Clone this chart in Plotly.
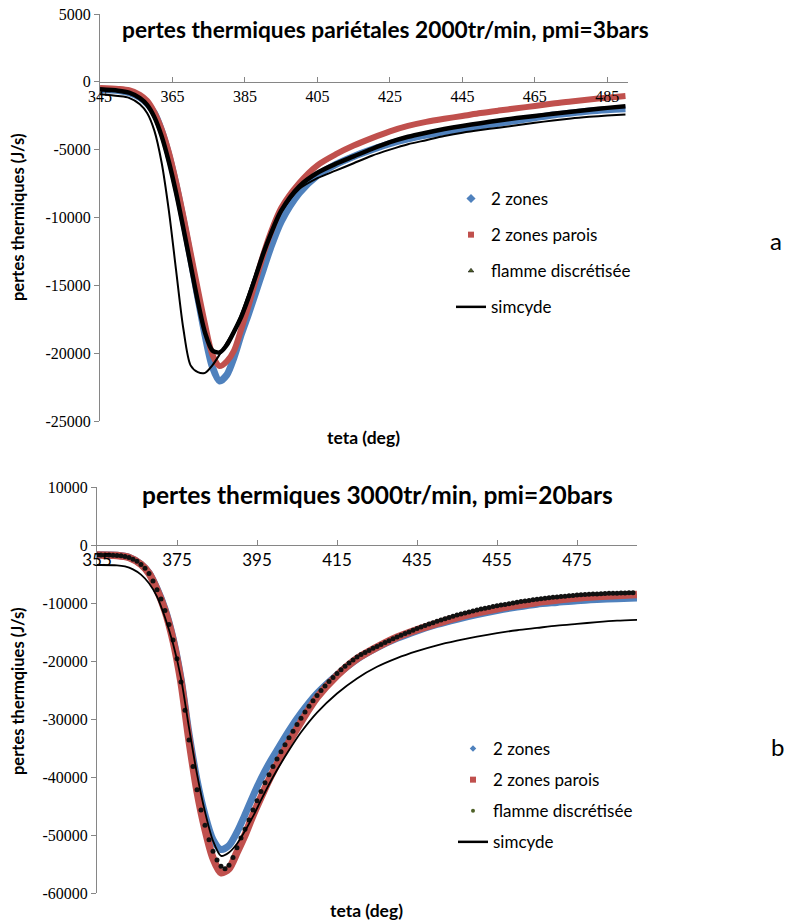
import plotly.graph_objects as go

# ---------------- data: chart a (2000 tr/min, pmi = 3 bars) ----------------
teta_a = [345, 350, 353, 356, 358, 360, 362, 364, 366, 368, 370, 372, 374, 376, 378,
          380, 382, 384, 386, 388, 390, 392, 395, 400, 405, 410, 415, 420, 425, 430,
          435, 440, 445, 450, 455, 460, 465, 470, 475, 480, 485, 490]
a_2zones = [-550, -650, -800, -1150, -1600, -2300, -3600, -5400, -7600, -10200, -13000, -15900,
            -18700, -21000, -22050, -21600, -20300, -18600, -17100, -15500, -13900, -12300,
            -10300, -8200, -6900, -6100, -5500, -5000, -4550, -4200, -3920, -3680, -3470,
            -3250, -3050, -2850, -2650, -2450, -2300, -2150, -2050, -1980]
a_parois = [-450, -520, -620, -950, -1400, -2250, -3500, -5200, -7400, -9900, -12600, -15300,
            -17900, -20100, -20950, -20600, -19800, -18200, -16500, -14600, -12800, -11200,
            -9300, -7450, -6150, -5350, -4700, -4150, -3650, -3250, -2950, -2720, -2520,
            -2300, -2120, -1950, -1780, -1600, -1450, -1300, -1170, -1050]
a_flamme = [-550, -650, -800, -1200, -1700, -2600, -4000, -5900, -8200, -10800, -13500, -16200,
            -18500, -19800, -19950, -19400, -18400, -17300, -15900, -14300, -12700, -11300,
            -9500, -7700, -6700, -6050, -5500, -4950, -4450, -4050, -3750, -3480, -3250,
            -3050, -2850, -2670, -2520, -2350, -2200, -2050, -1920, -1800]
a_simcyde = [-920, -1050, -1180, -1650, -2300, -3600, -5950, -9500, -13900, -18200, -20900,
             -21400, -21450, -20900, -20100, -19200, -18300, -17100, -15600, -14100, -12700,
             -11400, -9600, -7900, -7100, -6550, -6000, -5450, -5000, -4600, -4300, -4000,
             -3750, -3550, -3380, -3200, -3020, -2850, -2700, -2580, -2480, -2400]

# ---------------- data: chart b (3000 tr/min, pmi = 20 bars) ----------------
teta_b = [355, 360, 363, 366, 368, 370, 372, 374, 376, 378, 380, 382, 384, 386, 388, 390,
          392, 394, 396, 398, 400, 403, 406, 410, 415, 420, 425, 430, 435, 440, 445, 450,
          455, 460, 465, 470, 475, 480, 485, 490]
b_2zones = [-1700, -1780, -2100, -3300, -4800, -7500, -11000, -16000, -23000, -32500, -40500,
            -46500, -50800, -52500, -51800, -49500, -46500, -43300, -40300, -37700, -35400,
            -32000, -29000, -25600, -22400, -19700, -17700, -16100, -14800, -13700, -12800,
            -12000, -11300, -10700, -10200, -9900, -9600, -9400, -9250, -9150]
b_parois = [-1720, -1800, -2150, -3350, -4900, -7700, -11300, -16400, -23600, -33600, -42400,
            -49000, -54000, -56500, -55800, -53000, -50000, -46600, -43500, -40500, -37800,
            -34000, -30500, -26300, -22500, -19600, -17600, -15900, -14600, -13500, -12500,
            -11700, -11000, -10400, -9900, -9500, -9150, -8900, -8700, -8550]
teta_b_simcyde = [355, 360, 362, 364, 366, 368, 370, 372, 374, 376, 378, 380, 382, 384, 386,
                  388, 390, 392, 394, 396, 398, 400, 403, 406, 410, 415, 420, 425, 430, 435,
                  440, 445, 450, 455, 460, 465, 470, 475, 480, 485, 490]
b_simcyde = [-3450, -3500, -3700, -4200, -5100, -6600, -8900, -12500, -17000, -23000, -31500,
             -39500, -46000, -51000, -53600, -53000, -51500, -49300, -46800, -44000, -41300,
             -38800, -35400, -32300, -28900, -25600, -23000, -21000, -19500, -18300, -17300,
             -16500, -15800, -15200, -14700, -14300, -13900, -13600, -13300, -13050, -12900]
teta_b_flamme = list(range(355, 490))
b_flamme = [-1720, -1720, -1730, -1740, -1760, -1800, -1870, -1980, -2150, -2450,
            -2800, -3350, -4020, -4900, -6200, -7700, -9300, -11300, -13700, -16400,
            -19600, -23600, -28500, -33600, -38200, -42200, -45700, -48300, -50800, -52800,
            -54300, -55400, -55800, -55200, -53900, -52200, -50500, -49000, -47400, -45700,
            -44100, -42500, -41000, -39600, -38200, -36900, -35650, -34450, -33250, -32100,
            -30950, -29850, -28800, -27800, -26850, -25950, -25100, -24300, -23550, -22850,
            -22150, -21520, -20920, -20350, -19810, -19300, -18900, -18530, -18170, -17820,
            -17480, -17150, -16820, -16500, -16180, -15870, -15570, -15270, -14980, -14690,
            -14410, -14140, -13880, -13630, -13390, -13150, -12920, -12700, -12490, -12290,
            -12090, -11900, -11720, -11540, -11370, -11210, -11050, -10900, -10760, -10620,
            -10490, -10360, -10240, -10120, -10000, -9850, -9750, -9650, -9550, -9450,
            -9360, -9270, -9180, -9100, -9020, -8950, -8880, -8820, -8760, -8700,
            -8640, -8590, -8540, -8500, -8460, -8430, -8400, -8370, -8340, -8320,
            -8300, -8280, -8260, -8240, -8220]

series_names = ["2 zones", "2 zones parois", "flamme discrétisée", "simcyde"]
xticks_a = [345, 365, 385, 405, 425, 445, 465, 485]
xticks_b = [355, 375, 395, 415, 435, 455, 475]
yticks_a = [5000, 0, -5000, -10000, -15000, -20000, -25000]
yticklabels_a = ["5000", "0", "-5000", "-10000", "-15000", "-20000", "-25000"]
yticks_b = [10000, 0, -10000, -20000, -30000, -40000, -50000, -60000]
yticklabels_b = ["10000", "0", "-10000", "-20000", "-30000", "-40000", "-50000", "-60000"]

BLUE = "#4F81BD"
RED = "#C0504D"
AXIS = "#868686"
W, H = 801, 922


def px_x(p):
    return p / W


def px_y(p):
    return (H - p) / H


fig = go.Figure()

sp = dict(shape="spline", smoothing=0.8)

# ---- chart a traces
fig.add_trace(go.Scatter(x=teta_a, y=a_2zones, mode="lines", line=dict(color=BLUE, width=7, **sp),
                         showlegend=False, xaxis="x", yaxis="y"))
fig.add_trace(go.Scatter(x=teta_a, y=a_parois, mode="lines", line=dict(color=RED, width=6, **sp),
                         showlegend=False, xaxis="x", yaxis="y"))
fig.add_trace(go.Scatter(x=teta_a, y=a_flamme, mode="lines", line=dict(color="#000000", width=4.5, **sp),
                         showlegend=False, xaxis="x", yaxis="y"))
fig.add_trace(go.Scatter(x=teta_a, y=a_simcyde, mode="lines", line=dict(color="#000000", width=2, **sp),
                         showlegend=False, xaxis="x", yaxis="y"))

# ---- chart b traces
fig.add_trace(go.Scatter(x=teta_b, y=b_2zones, mode="lines", line=dict(color=BLUE, width=7, **sp),
                         showlegend=False, xaxis="x2", yaxis="y2"))
fig.add_trace(go.Scatter(x=teta_b, y=b_parois, mode="lines", line=dict(color=RED, width=7.5, **sp),
                         showlegend=False, xaxis="x2", yaxis="y2"))
fig.add_trace(go.Scatter(x=teta_b_flamme, y=b_flamme, mode="markers",
                         marker=dict(color="#111111", size=5, symbol="circle"),
                         showlegend=False, xaxis="x2", yaxis="y2"))
fig.add_trace(go.Scatter(x=teta_b_simcyde, y=b_simcyde, mode="lines", line=dict(color="#000000", width=1.8, **sp),
                         showlegend=False, xaxis="x2", yaxis="y2"))

# ---- legend entries
leg_markers_a = [dict(color=BLUE, size=7, symbol="diamond"),
                 dict(color=RED, size=6, symbol="square"),
                 dict(color="#4F6228", size=5, symbol="triangle-up", line=dict(color="#000", width=0.5))]
leg_markers_b = [dict(color=BLUE, size=5, symbol="diamond"),
                 dict(color=RED, size=6, symbol="square"),
                 dict(color="#4F6228", size=4, symbol="circle")]
for leg, markers, xa, ya, tag in [("legend", leg_markers_a, "x", "y", "a"),
                                  ("legend2", leg_markers_b, "x2", "y2", "b")]:
    for i, name in enumerate(series_names):
        if i < 3:
            fig.add_trace(go.Scatter(x=[None], y=[None], mode="markers", marker=markers[i], name=name,
                                     legend=leg, legendgroup="%s%d" % (tag, i), xaxis=xa, yaxis=ya))
        else:
            fig.add_trace(go.Scatter(x=[None], y=[None], mode="lines", line=dict(color="#000", width=2.5), name=name,
                                     legend=leg, legendgroup="%s%d" % (tag, i), xaxis=xa, yaxis=ya))

serif = "Liberation Serif"
sans = "Lato"
tickfont_serif = dict(family=serif, size=16, color="#000")
tickfont_sans = dict(family=sans, size=17, color="#000")

common_x = dict(side="bottom", anchor="free", showline=True, linecolor=AXIS, linewidth=1, ticks="inside",
                ticklen=5, tickcolor=AXIS, showgrid=False, zeroline=False, automargin=False)
common_y = dict(showline=True, linecolor=AXIS, linewidth=1, ticks="outside", ticklen=5, tickcolor=AXIS,
                showgrid=False, zeroline=False, automargin=False, tickfont=tickfont_serif)

fig.update_layout(
    width=W, height=H,
    margin=dict(l=0, r=0, t=0, b=0, autoexpand=False),
    paper_bgcolor="white", plot_bgcolor="white",
    showlegend=True,
    xaxis=dict(domain=[px_x(100), px_x(628)], range=[345, 490.7], tickvals=xticks_a,
               position=px_y(81.8), tickfont=tickfont_serif, **common_x),
    yaxis=dict(domain=[px_y(421), px_y(14)], range=[-25000, 5000], tickvals=yticks_a,
               ticktext=yticklabels_a, anchor="x", **common_y),
    xaxis2=dict(domain=[px_x(97), px_x(637)], range=[355, 490], tickvals=xticks_b,
                position=px_y(545), tickfont=tickfont_sans, **common_x),
    yaxis2=dict(domain=[px_y(893), px_y(487)], range=[-60000, 10000], tickvals=yticks_b,
                ticktext=yticklabels_b, anchor="x2", **common_y),
    legend=dict(x=px_x(451), xanchor="left", y=px_y(181), yanchor="top",
                font=dict(family=sans, size=17, color="#000"), tracegroupgap=11,
                bgcolor="rgba(0,0,0,0)", itemwidth=30),
    legend2=dict(x=px_x(453), xanchor="left", y=px_y(731), yanchor="top",
                 font=dict(family=sans, size=17, color="#000"), tracegroupgap=6,
                 bgcolor="rgba(0,0,0,0)", itemwidth=30),
    annotations=[
        dict(text="<b>pertes thermiques pariétales 2000tr/min, pmi=3bars</b>", x=px_x(385), y=px_y(30),
             xref="paper", yref="paper", showarrow=False, xanchor="center", yanchor="middle",
             font=dict(family=sans, size=22.7, color="#000")),
        dict(text="<b>pertes thermiques 3000tr/min, pmi=20bars</b>", x=px_x(377), y=px_y(494),
             xref="paper", yref="paper", showarrow=False, xanchor="center", yanchor="middle",
             font=dict(family=sans, size=24.5, color="#000")),
        dict(text="<b>pertes thermiques (J/s)</b>", x=px_x(18), y=px_y(217), textangle=-90,
             xref="paper", yref="paper", showarrow=False, xanchor="center", yanchor="middle",
             font=dict(family=sans, size=16.5, color="#000")),
        dict(text="<b>pertes thermqiues (J/s)</b>", x=px_x(18), y=px_y(691), textangle=-90,
             xref="paper", yref="paper", showarrow=False, xanchor="center", yanchor="middle",
             font=dict(family=sans, size=16.5, color="#000")),
        dict(text="<b>teta (deg)</b>", x=px_x(363), y=px_y(437),
             xref="paper", yref="paper", showarrow=False, xanchor="center", yanchor="middle",
             font=dict(family=sans, size=17.5, color="#000")),
        dict(text="<b>teta (deg)</b>", x=px_x(366), y=px_y(910),
             xref="paper", yref="paper", showarrow=False, xanchor="center", yanchor="middle",
             font=dict(family=sans, size=17.5, color="#000")),
        dict(text="a", x=px_x(776), y=px_y(240),
             xref="paper", yref="paper", showarrow=False, xanchor="center", yanchor="middle",
             font=dict(family=sans, size=24, color="#000")),
        dict(text="b", x=px_x(777), y=px_y(746),
             xref="paper", yref="paper", showarrow=False, xanchor="center", yanchor="middle",
             font=dict(family=sans, size=24, color="#000")),
    ],
)

fig.write_html("out.html", config={"displayModeBar": False},
               post_script="document.body.style.margin='0px';")
